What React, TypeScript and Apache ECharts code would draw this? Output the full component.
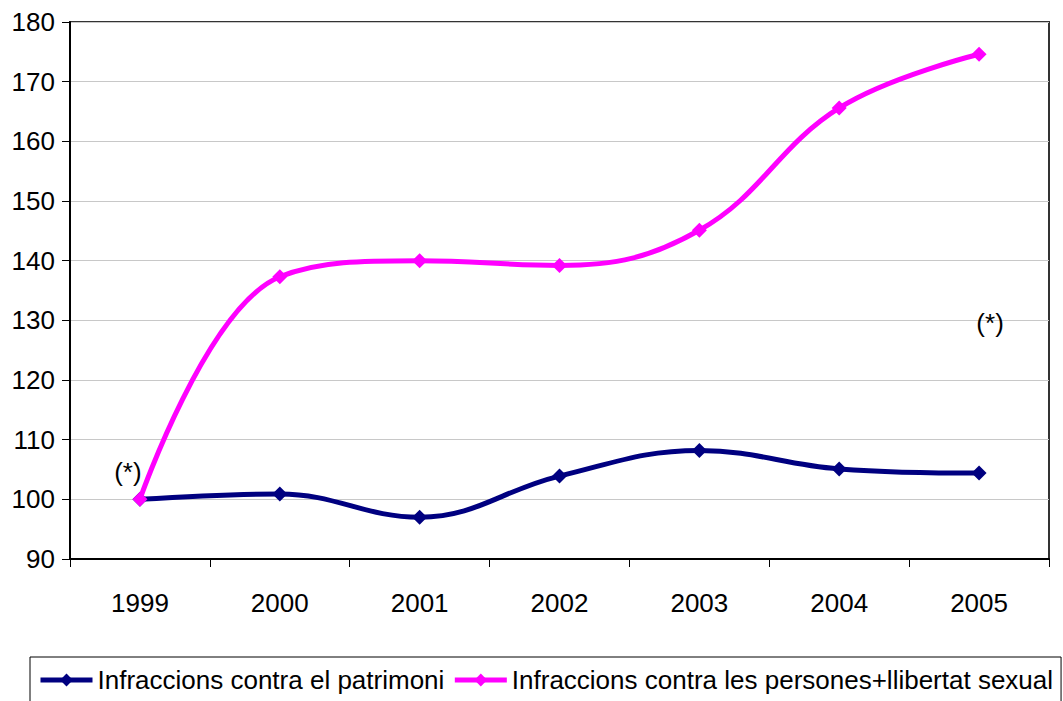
import React, { useEffect, useRef } from "react";
import * as echarts from "echarts";

const years = ["1999", "2000", "2001", "2002", "2003", "2004", "2005"];
const patrimoni = [100, 100.9, 97.0, 103.9, 108.2, 105.1, 104.4];
const persones = [100, 137.3, 140.0, 139.2, 145.1, 165.6, 174.6];
const seriesNames = [
  "Infraccions contra el patrimoni",
  "Infraccions contra les persones+llibertat sexual",
];
const yTicks = { min: 90, max: 180, interval: 10 };
const noteLabel = "(*)";

export default function App() {
  const ref = useRef<HTMLDivElement>(null);
  useEffect(() => {
    const chart = echarts.init(ref.current!, null, { renderer: "svg" });
    const font = "'Liberation Sans', Arial, sans-serif";
    chart.setOption({
      animation: false,
      textStyle: { fontFamily: font },
      grid: {
        left: 70,
        top: 22,
        right: 14,
        bottom: 142,
        show: true,
        borderColor: "#333",
        borderWidth: 2,
      },
      legend: {
        left: 30,
        top: 657,
        width: 1400,
        orient: "horizontal",
        padding: [10, 8, 20, 8],
        borderColor: "#000",
        borderWidth: 1,
        itemGap: 8,
        itemWidth: 52,
        itemHeight: 16,
        lineStyle: { width: 5 },
        textStyle: { fontSize: 26, color: "#000", fontFamily: font },
        data: seriesNames,
      },
      xAxis: {
        type: "category",
        data: years,
        boundaryGap: true,
        axisLine: { lineStyle: { color: "#000", width: 2 } },
        axisTick: { show: true, length: 8, lineStyle: { color: "#000", width: 1 } },
        axisLabel: { color: "#000", fontSize: 26, margin: 31, fontFamily: font },
      },
      yAxis: {
        type: "value",
        min: yTicks.min,
        max: yTicks.max,
        interval: yTicks.interval,
        axisLine: { show: true, lineStyle: { color: "#000", width: 2 } },
        axisTick: { show: true, length: 8, lineStyle: { color: "#000", width: 1 } },
        axisLabel: { color: "#000", fontSize: 26, margin: 15, fontFamily: font },
        splitLine: { lineStyle: { color: "#c8c8c8", width: 1 } },
      },
      series: [
        {
          name: seriesNames[0],
          type: "line",
          data: patrimoni,
          smooth: 0.4,
          symbol: "diamond",
          symbolSize: 15,
          lineStyle: { color: "#000080", width: 5 },
          itemStyle: { color: "#000080" },
          z: 3,
        },
        {
          name: seriesNames[1],
          type: "line",
          data: persones,
          smooth: 0.4,
          symbol: "diamond",
          symbolSize: 15,
          lineStyle: { color: "#ff00ff", width: 5 },
          itemStyle: { color: "#ff00ff" },
          z: 4,
          markPoint: {
            symbol: "rect",
            symbolSize: 1,
            silent: true,
            itemStyle: { color: "rgba(0,0,0,0)" },
            label: {
              show: true,
              position: "inside",
              formatter: noteLabel,
              color: "#000",
              fontSize: 26,
              fontFamily: font,
            },
            data: [
              { coord: ["1999", 104.5], label: { offset: [-12, 0] } },
              { coord: ["2005", 129.6], label: { offset: [11, 0] } },
            ],
          },
        },
      ],
    });
    return () => chart.dispose();
  }, []);
  return (
    <div
      ref={ref}
      style={{ position: "fixed", left: 0, top: 0, width: 1063, height: 701, background: "#fff" }}
    />
  );
}
